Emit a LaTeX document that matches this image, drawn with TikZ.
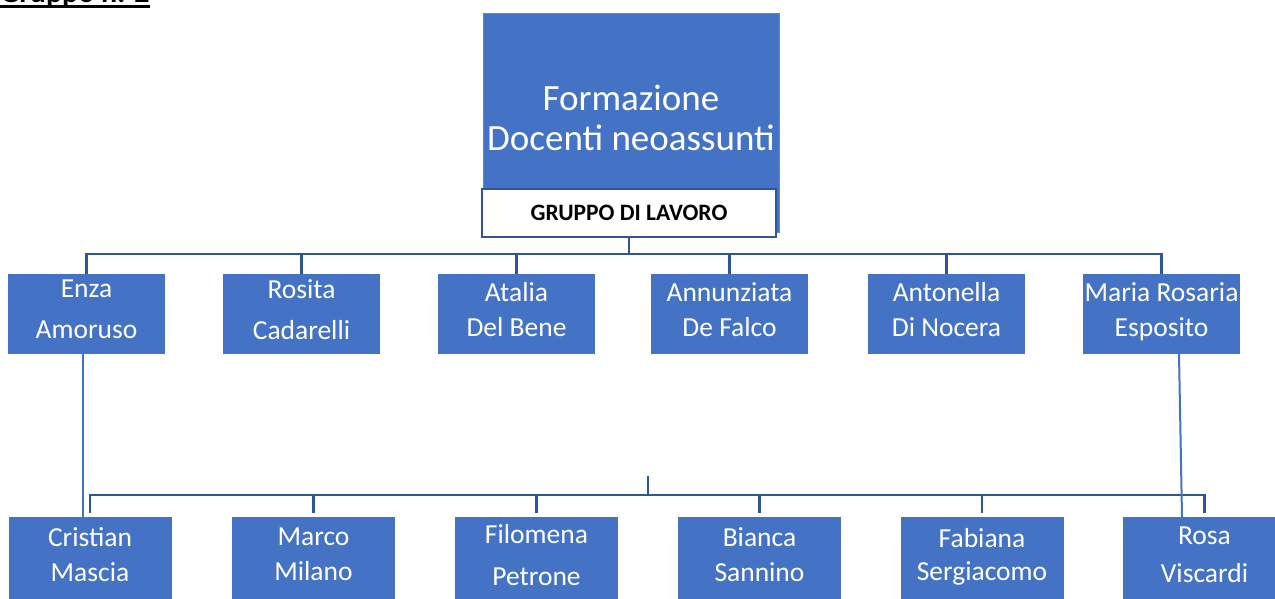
\documentclass[tikz,border=0pt]{standalone}
\usepackage{fontspec}
\setmainfont{Carlito}
\usetikzlibrary{positioning}
\definecolor{boxblue}{HTML}{4472C4}
\definecolor{linkblue}{HTML}{2F5597}

\tikzset{
  member/.style={fill=boxblue, text=white, minimum width=157, minimum height=80,
    inner sep=0, align=center, text depth=9pt, font=\fontsize{27.5}{35}\selectfont},
  trainee/.style={member, minimum width=163, minimum height=84},
  link/.style={draw=linkblue, line width=2.5},
  cross/.style={draw=boxblue, line width=2}
}

\begin{document}
\begin{tikzpicture}[x=1pt,y=-1pt]
  \useasboundingbox (0,0) rectangle (1275,598);
  \node[anchor=base west, inner sep=0, font=\fontsize{30}{36}\selectfont\bfseries] (heading) at (0,2) {Gruppo n. 2};
  \draw[line width=3] ([yshift=-4]heading.base west) -- ([yshift=-4]heading.base east);
% course box
  \node[fill=boxblue, draw=boxblue!85!white, minimum width=296, minimum height=219, inner sep=0,
    text=white, align=center, text depth=10pt, font=\fontsize{37}{40}\selectfont] (course) at (631,122.5) {Formazione\\Docenti neoassunti};
  \node[fill=white, draw=linkblue, line width=2, minimum width=294, minimum height=48, inner sep=0,
    font=\fontsize{23.5}{28}\selectfont\bfseries] (team) at (629,213) {GRUPPO DI LAVORO};
% first row
  \node[member] (enza) at (86.5,314) {Enza\\[6pt]Amoruso};
  \node[member] (rosita) at (301.5,314) {Rosita\\[6pt]Cadarelli};
  \node[member] (atalia) at (516.5,314) {Atalia\\Del Bene};
  \node[member] (annunziata) at (729.5,314) {Annunziata\\De Falco};
  \node[member] (antonella) at (946.5,314) {Antonella\\Di Nocera};
  \node[member] (mariarosaria) at (1161.5,314) {Maria Rosaria\\Esposito};
  \foreach \n in {enza,rosita,atalia,annunziata,antonella,mariarosaria}
    \draw[link] (team.south) -- ++(0,16) -| (\n.north);
% second row
  \node[trainee] (cristian) at (90,559) {Cristian\\Mascia};
  \node[trainee] (marco) at (313.5,559) {Marco\\Milano};
  \node[trainee] (filomena) at (536.5,559) {Filomena\\[7pt]Petrone};
  \node[trainee] (bianca) at (759.5,559) {Bianca\\Sannino};
  \node[trainee] (fabiana) at (982,559) {Fabiana\\[-2pt]Sergiacomo};
  \node[trainee] (rosa) at (1204.5,559) {Rosa\\[3pt]Viscardi};
  \coordinate (hub) at (648,476);
  \foreach \n in {cristian,marco,filomena,bianca,fabiana,rosa}
    \draw[link, shorten >=4] (hub) -- ++(0,19) -| (\n.north);
  \draw[cross] ([xshift=-3.5]enza.south) -- ([xshift=-7]cristian.north);
  \draw[cross] ([xshift=17.5]mariarosaria.south) -- ([xshift=-22.5]rosa.north);
\end{tikzpicture}
\end{document}
